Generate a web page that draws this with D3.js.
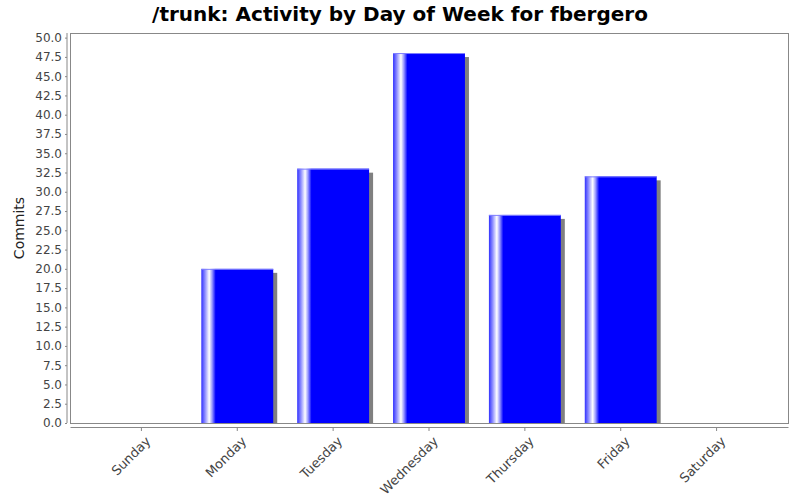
<!DOCTYPE html>
<html>
<head>
<meta charset="utf-8">
<script src="https://cdn.jsdelivr.net/npm/d3@7"></script>
<style>
body { margin: 0; background: #fff; }
svg { font-family: "DejaVu Sans", sans-serif; }
</style>
</head>
<body>
<svg id="chart" width="800" height="500"></svg>
<script>
'use strict';

var arrayDays = ['Sunday', 'Monday', 'Tuesday', 'Wednesday', 'Thursday', 'Friday', 'Saturday'];
var arrayCommits = [0, 20, 33, 48, 27, 32, 0];
var arrayYTicks = [0, 2.5, 5, 7.5, 10, 12.5, 15, 17.5, 20, 22.5, 25, 27.5, 30, 32.5, 35, 37.5, 40, 42.5, 45, 47.5, 50];

var svg = d3.select('#chart');

var nLeft = 70, nRight = 788, nTop = 33, nBottom = 423;

var xScale = d3.scaleBand()
	.domain(arrayDays)
	.range([nLeft, nRight])
	.paddingInner(0.25)
	.paddingOuter(0.37);

var yScale = d3.scaleLinear()
	.domain([0, 50.6])
	.range([nBottom, nTop]);

// gradient like the java bar painter
var defs = svg.append('defs');
var grad = defs.append('linearGradient').attr('id', 'bargrad')
	.attr('x1', '0%').attr('x2', '100%').attr('y1', '0%').attr('y2', '0%');
[[0, '#3030ff'], [0.05, '#8a8aff'], [0.11, '#ffffff'], [0.15, '#9a9aff'], [0.2, '#0000ff'], [1, '#0000ff']]
	.forEach(function(s) {
		grad.append('stop').attr('offset', (s[0] * 100) + '%').attr('stop-color', s[1]);
	});

// title
svg.append('text')
	.attr('x', 400).attr('y', 21)
	.attr('text-anchor', 'middle')
	.style('font-size', '20px').style('font-weight', 'bold')
	.text('/trunk: Activity by Day of Week for fbergero');

// plot area
svg.append('rect')
	.attr('x', nLeft).attr('y', nTop)
	.attr('width', nRight - nLeft).attr('height', nBottom - nTop)
	.attr('fill', '#fff').attr('stroke', '#888').attr('stroke-width', 1)
	.attr('shape-rendering', 'crispEdges');

var bars = svg.append('g');

// shadows
bars.selectAll('rect.shadow')
	.data(arrayCommits)
	.enter()
	.append('rect')
	.attr('class', 'shadow')
	.attr('x', function(d, i) { return xScale(arrayDays[i]) + 4; })
	.attr('y', function(d) { return yScale(d) + 4; })
	.attr('width', xScale.bandwidth())
	.attr('height', function(d) { return d > 0 ? nBottom - yScale(d) - 4 : 0; })
	.attr('fill', '#808080');

bars.selectAll('rect.bar')
	.data(arrayCommits)
	.enter()
	.append('rect')
	.attr('class', 'bar')
	.attr('x', function(d, i) { return xScale(arrayDays[i]); })
	.attr('y', function(d) { return yScale(d); })
	.attr('width', xScale.bandwidth())
	.attr('height', function(d) { return nBottom - yScale(d); })
	.attr('fill', 'url(#bargrad)');

bars.selectAll('line.top')
	.data(arrayCommits.filter(function(d) { return d > 0; }))
	.enter()
	.append('line')
	.attr('x1', function(d) { return xScale(arrayDays[arrayCommits.indexOf(d)]); })
	.attr('x2', function(d) { return xScale(arrayDays[arrayCommits.indexOf(d)]) + xScale.bandwidth(); })
	.attr('y1', function(d) { return yScale(d) + 0.5; })
	.attr('y2', function(d) { return yScale(d) + 0.5; })
	.attr('stroke', '#8080ff').attr('stroke-width', 1);

// y axis
var yAxis = d3.axisLeft(yScale)
	.tickValues(arrayYTicks)
	.tickSize(2)
	.tickPadding(3)
	.tickFormat(d3.format('.1f'));

var gY = svg.append('g')
	.attr('transform', 'translate(' + (nLeft - 3) + ',0)')
	.call(yAxis);
gY.select('.domain').attr('stroke', '#888').attr('d', 'M0,' + nTop + 'V' + nBottom);
gY.selectAll('.tick line').attr('stroke', '#888');
gY.selectAll('.tick text').attr('fill', '#444').style('font-size', '12px').style('font-family', '"DejaVu Sans", sans-serif');

// x axis
var xAxis = d3.axisBottom(xScale).tickSize(4).tickSizeOuter(0);
var gX = svg.append('g')
	.attr('transform', 'translate(0,' + (nBottom + 4) + ')')
	.call(xAxis);
gX.select('.domain').attr('stroke', '#888');
gX.selectAll('.tick line').attr('stroke', '#888');
gX.selectAll('.tick text')
	.attr('fill', '#444')
	.style('font-size', '13px')
	.style('font-family', '"DejaVu Sans", sans-serif')
	.attr('text-anchor', 'end')
	.attr('dy', '0')
	.attr('transform', 'translate(5,10) rotate(-45)');

// y label
svg.append('text')
	.attr('transform', 'translate(24,' + ((nTop + nBottom) / 2) + ') rotate(-90)')
	.attr('text-anchor', 'middle')
	.attr('fill', '#222')
	.style('font-size', '14px')
	.text('Commits');
</script>
</body>
</html>
